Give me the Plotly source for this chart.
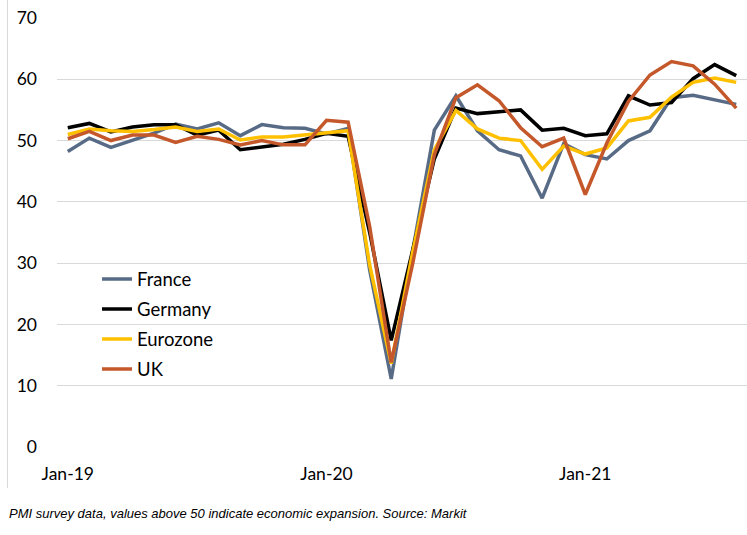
import plotly.graph_objects as go

months = ["Jan-19", "Feb-19", "Mar-19", "Apr-19", "May-19", "Jun-19", "Jul-19", "Aug-19",
          "Sep-19", "Oct-19", "Nov-19", "Dec-19", "Jan-20", "Feb-20", "Mar-20", "Apr-20",
          "May-20", "Jun-20", "Jul-20", "Aug-20", "Sep-20", "Oct-20", "Nov-20", "Dec-20",
          "Jan-21", "Feb-21", "Mar-21", "Apr-21", "May-21", "Jun-21", "Jul-21", "Aug-21"]

france = [48.2, 50.4, 48.9, 50.1, 51.2, 52.7, 51.9, 52.9, 50.8, 52.6, 52.1, 52.0,
          51.1, 52.0, 28.9, 11.1, 32.1, 51.7, 57.3, 51.6, 48.5, 47.5, 40.6, 49.5,
          47.7, 47.0, 50.0, 51.6, 57.0, 57.4, 56.6, 55.9]
germany = [52.1, 52.8, 51.4, 52.2, 52.6, 52.6, 50.9, 51.7, 48.5, 48.9, 49.4, 50.2,
           51.2, 50.7, 35.0, 17.4, 32.3, 47.0, 55.3, 54.4, 54.7, 55.0, 51.7, 52.0,
           50.8, 51.1, 57.3, 55.8, 56.2, 60.1, 62.4, 60.6]
eurozone = [51.0, 51.9, 51.6, 51.5, 51.8, 52.2, 51.5, 51.9, 50.1, 50.6, 50.6, 50.9,
            51.3, 51.6, 29.7, 13.6, 31.9, 48.5, 54.9, 51.9, 50.4, 50.0, 45.3, 49.1,
            47.8, 48.8, 53.2, 53.8, 57.1, 59.5, 60.2, 59.5]
uk = [50.3, 51.5, 50.0, 50.9, 50.9, 49.7, 50.7, 50.2, 49.3, 50.0, 49.3, 49.3,
      53.3, 53.0, 36.0, 13.8, 30.0, 47.7, 57.0, 59.1, 56.5, 52.1, 49.0, 50.4,
      41.2, 49.6, 56.4, 60.7, 62.9, 62.2, 59.2, 55.3]

x_ticks = ["Jan-19", "Jan-20", "Jan-21"]
y_ticks = [0, 10, 20, 30, 40, 50, 60, 70]

series = [("France", france, "#586B86"), ("Germany", germany, "#000000"),
          ("Eurozone", eurozone, "#FFC000"), ("UK", uk, "#C5582B")]

fig = go.Figure()
for name, vals, col in series:
    fig.add_trace(go.Scatter(x=months, y=vals, mode="lines", name=name, legendgroup=name,
                             line=dict(color=col, width=3.5)))

fig.update_layout(
    width=747, height=535,
    margin=dict(l=57, r=0, t=18, b=88, autoexpand=False),
    paper_bgcolor="white", plot_bgcolor="white",
    font=dict(family="Lato", size=17, color="#000000"),
    showlegend=True,
    legend=dict(x=0.058, y=0.435, xanchor="left", yanchor="top",
                font=dict(family="Lato", size=18.5, color="#000000"),
                tracegroupgap=3, bgcolor="rgba(0,0,0,0)"),
    xaxis=dict(type="category", range=[-0.5, 31.5], tickvals=x_ticks, ticktext=x_ticks,
               showgrid=False, showline=False, zeroline=False, ticks="", automargin=False,
               ticklabelstandoff=14, tickfont=dict(family="Lato", size=17.5)),
    yaxis=dict(range=[0, 70], tickvals=y_ticks, showgrid=True, gridcolor="#D9D9D9",
               gridwidth=1.3, zeroline=False, showline=False, ticks="", automargin=False,
               ticklabelstandoff=19, tickfont=dict(family="Lato", size=17.5)),
    shapes=[dict(type="line", xref="paper", yref="paper", x0=-0.0717, x1=-0.0717,
                 y0=1.042, y1=-0.0956, line=dict(color="#D9D9D9", width=1))],
    annotations=[dict(text="<i>PMI survey data, values above 50 indicate economic expansion. Source: Markit</i>",
                      xref="paper", yref="paper", x=-0.0725, y=-0.155, xanchor="left", yanchor="middle",
                      showarrow=False, font=dict(family="Liberation Sans", size=13, color="#000000"))],
)

fig.write_html("out.html", config={"displayModeBar": False},
               post_script="document.body.style.margin='0';")
